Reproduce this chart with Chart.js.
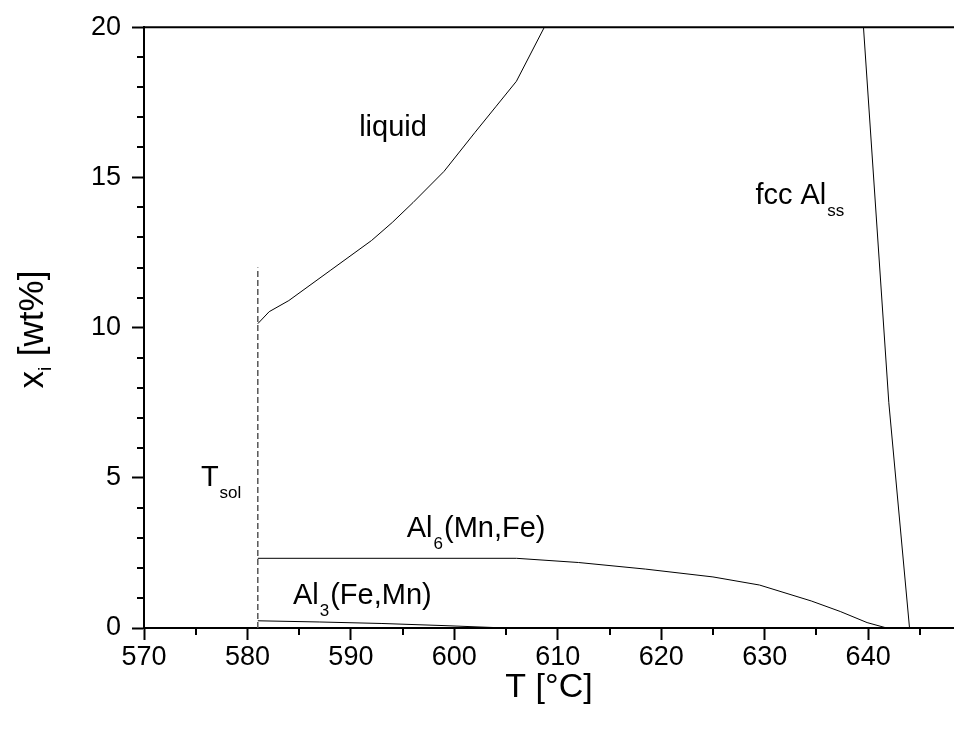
<!DOCTYPE html>
<html><head><meta charset="utf-8">
<script src="https://cdn.jsdelivr.net/npm/chart.js@4.4.1/dist/chart.umd.min.js"></script>
<style>html,body{margin:0;padding:0;background:#fff;} #wrap{width:954px;height:740px;}</style>
</head><body><div id="wrap"><canvas id="c" width="954" height="740"></canvas></div>
<script>
// ---- data ----
const xTicks = [570, 580, 590, 600, 610, 620, 630, 640];
const yTicks = [0, 5, 10, 15, 20];
const xMinorTicks = [575, 585, 595, 605, 615, 625, 635, 645];
const yMinorTicks = [1, 2, 3, 4, 6, 7, 8, 9, 11, 12, 13, 14, 16, 17, 18, 19];

const liquidT = [581.0, 582.1, 584.0, 588.0, 592.0, 594.0, 596.0, 599.0, 602.0, 604.0, 606.0, 608.7];
const liquidX = [10.13, 10.53, 10.9, 11.9, 12.9, 13.5, 14.16, 15.2, 16.5, 17.35, 18.2, 20.0];

const al6T = [581.0, 606.0, 612.0, 618.5, 625.0, 629.5, 634.5, 637.3, 639.9, 641.8];
const al6X = [2.32, 2.32, 2.18, 1.96, 1.70, 1.43, 0.90, 0.55, 0.18, 0.0];

const al3T = [581.0, 587.0, 593.0, 599.0, 605.0];
const al3X = [0.24, 0.20, 0.15, 0.08, 0.0];

const fccT = [639.55, 642.0, 644.0];
const fccX = [20.0, 7.5, 0.0];

const tsolT = [581.0, 581.0];
const tsolX = [0.0, 12.0];

// ---- text annotations (anchor: left / baseline, in data units) ----
const labels = [
  {t: 575.5, v: 4.72, main: 'T', sub: 'sol', rest: ''},
  {t: 590.8, v: 16.38, main: 'liquid', sub: '', rest: ''},
  {t: 629.1, v: 14.1, main: 'fcc Al', sub: 'ss', rest: ''},
  {t: 595.4, v: 3.02, main: 'Al', sub: '6', rest: '(Mn,Fe)'},
  {t: 584.4, v: 0.80, main: 'Al', sub: '3', rest: '(Fe,Mn)'}
];

const FAM = 'Arial, "Liberation Sans", sans-serif';
const pts = (a, b) => a.map((t, i) => ({x: t, y: b[i]}));

function line(data, extra) {
  return Object.assign({data, showLine: true, pointRadius: 0, borderColor: '#000', borderWidth: 1, fill: false, tension: 0}, extra || {});
}

const decor = {
  id: 'decor',
  afterDraw(chart) {
    const ctx = chart.ctx, a = chart.chartArea;
    const xs = chart.scales.x, ys = chart.scales.y;
    ctx.save();
    ctx.strokeStyle = '#000';
    ctx.lineWidth = 2;
    // top frame line
    ctx.beginPath(); ctx.moveTo(a.left - 1, a.top); ctx.lineTo(a.right, a.top); ctx.stroke();
    // minor ticks
    ctx.beginPath();
    yMinorTicks.forEach(v => { const p = Math.round(ys.getPixelForValue(v)); ctx.moveTo(a.left - 7, p); ctx.lineTo(a.left, p); });
    xMinorTicks.forEach(v => { const p = Math.round(xs.getPixelForValue(v)); ctx.moveTo(p, a.bottom); ctx.lineTo(p, a.bottom + 7); });
    ctx.stroke();

    // annotations
    ctx.fillStyle = '#000';
    ctx.textAlign = 'left';
    ctx.textBaseline = 'alphabetic';
    labels.forEach(l => {
      let x = xs.getPixelForValue(l.t), y = ys.getPixelForValue(l.v);
      ctx.font = '29px ' + FAM;
      ctx.fillText(l.main, x, y); x += ctx.measureText(l.main).width;
      if (l.sub) {
        ctx.font = '17px ' + FAM;
        x += 1;
        ctx.fillText(l.sub, x, y + 12); x += ctx.measureText(l.sub).width + 1;
      }
      if (l.rest) {
        ctx.font = '29px ' + FAM;
        ctx.fillText(l.rest, x, y);
      }
    });

    // x axis title
    ctx.font = '34px ' + FAM;
    ctx.textAlign = 'center';
    ctx.fillText('T [°C]', (a.left + a.right) / 2, 697);

    // y axis title (rotated, with subscript)
    ctx.translate(43, (a.top + a.bottom) / 2 + 2);
    ctx.rotate(-Math.PI / 2);
    ctx.textAlign = 'left';
    ctx.font = '35px ' + FAM;
    const w1 = ctx.measureText('x').width;
    const w3 = ctx.measureText(' [wt%]').width;
    ctx.font = '19px ' + FAM;
    const w2 = ctx.measureText('i').width;
    let x0 = -(w1 + w2 + 1 + w3) / 2;
    ctx.font = '35px ' + FAM;
    ctx.fillText('x', x0, 0); x0 += w1;
    ctx.font = '19px ' + FAM;
    ctx.fillText('i', x0, 8); x0 += w2 + 1;
    ctx.font = '35px ' + FAM;
    ctx.fillText(' [wt%]', x0, 0);
    ctx.restore();
  }
};

new Chart(document.getElementById('c'), {
  type: 'scatter',
  data: {
    datasets: [
      line(pts(tsolT, tsolX), {borderColor: '#555', borderWidth: 1.5, borderDash: [6, 3]}),
      line(pts(liquidT, liquidX)),
      line(pts(al6T, al6X)),
      line(pts(al3T, al3X)),
      line(pts(fccT, fccX))
    ]
  },
  options: {
    responsive: false,
    animation: false,
    devicePixelRatio: 1,
    layout: {padding: {top: 26, left: 0, right: 0, bottom: 0}},
    plugins: {legend: {display: false}, tooltip: {enabled: false}},
    scales: {
      x: {
        type: 'linear', position: 'bottom', min: 570, max: 648.3,
        afterBuildTicks: s => { s.ticks = xTicks.map(v => ({value: v})); },
        afterFit: s => { s.height = 112; },
        ticks: {font: {size: 27, family: FAM}, color: '#000', padding: 1, maxRotation: 0, autoSkip: false},
        grid: {drawOnChartArea: false, tickLength: 12, tickWidth: 2, tickColor: '#000'},
        border: {display: true, color: '#000', width: 2}
      },
      y: {
        type: 'linear', position: 'left', min: 0, max: 20,
        afterBuildTicks: s => { s.ticks = yTicks.map(v => ({value: v})); },
        afterFit: s => { s.width = 144; },
        ticks: {font: {size: 27, family: FAM}, color: '#000', padding: 11, autoSkip: false},
        grid: {drawOnChartArea: false, tickLength: 12, tickWidth: 2, tickColor: '#000'},
        border: {display: true, color: '#000', width: 2}
      }
    }
  },
  plugins: [decor]
});
</script>
</body></html>
